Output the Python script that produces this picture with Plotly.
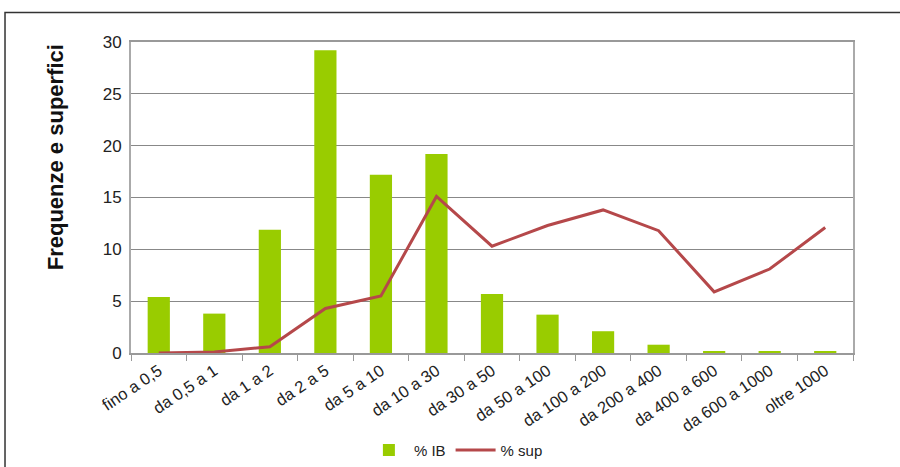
import plotly.graph_objects as go

# Classi di superficie (ettari)
categories = ["fino a 0,5", "da 0,5 a 1", "da 1 a 2", "da 2 a 5", "da 5 a 10",
              "da 10 a 30", "da 30 a 50", "da 50 a 100", "da 100 a 200",
              "da 200 a 400", "da 400 a 600", "da 600 a 1000", "oltre 1000"]
# Frequenza percentuale delle imprese (% IB)
pct_ib = [5.4, 3.8, 11.9, 29.2, 17.2, 19.2, 5.7, 3.7, 2.1, 0.8, 0.1, 0.1, 0.1]
# Quota percentuale della superficie (% sup)
pct_sup = [0.0, 0.1, 0.6, 4.3, 5.5, 15.1, 10.3, 12.3, 13.8, 11.8, 5.9, 8.1, 12.1]
y_ticks = [0, 5, 10, 15, 20, 25, 30]

GREEN = "#99CC00"
RED = "#B5484A"
NARROW = "Liberation Sans Narrow, Arial Narrow, Liberation Sans, sans-serif"

fig = go.Figure()
fig.add_trace(go.Bar(x=categories, y=pct_ib, name="% IB",
                     marker=dict(color=GREEN, line=dict(width=0))))
fig.add_trace(go.Scatter(x=categories, y=pct_sup, name="% sup", mode="lines",
                         line=dict(color=RED, width=3)))

fig.update_layout(
    width=900, height=467,
    margin=dict(l=131, r=47, t=42, b=114, autoexpand=False),
    paper_bgcolor="white", plot_bgcolor="white",
    bargap=0.6,
    showlegend=True,
    legend=dict(orientation="h", x=0.45, xref="paper", xanchor="center",
                y=0.036, yref="container", yanchor="middle",
                font=dict(family=NARROW, size=15, color="#222"),
                itemwidth=40, traceorder="normal"),
    shapes=[dict(type="rect", xref="paper", yref="paper",
                 x0=-0.1745, x1=1.2, y0=-0.48, y1=1.095,
                 line=dict(color="#333", width=1.5), layer="below")],
    annotations=[dict(text="<b>Frequenze e superfici</b>", textangle=-90,
                      xref="paper", yref="paper", x=-0.105, y=0.63,
                      xanchor="center", yanchor="middle", showarrow=False,
                      font=dict(family="Liberation Sans, Arial, sans-serif",
                                size=22, color="#111"))],
)

fig.update_xaxes(
    type="category",
    tickangle=-34,
    tickfont=dict(family="Liberation Sans, Arial, sans-serif", size=16.5, color="#222"),
    showline=True, linecolor="#999", linewidth=2, mirror=True,
    ticks="outside", tickson="boundaries", ticklen=6, tickcolor="#999",
    showgrid=False, automargin=False,
)
fig.update_yaxes(
    range=[0, 30], tickvals=y_ticks,
    tickfont=dict(family=NARROW, size=17, color="#222"),
    showline=True, linecolor="#aaa", linewidth=2, mirror=True,
    showgrid=True, gridcolor="#888", gridwidth=1.2,
    zeroline=False, ticks="", ticklabelstandoff=4, automargin=False,
)

fig.write_html("out.html")
